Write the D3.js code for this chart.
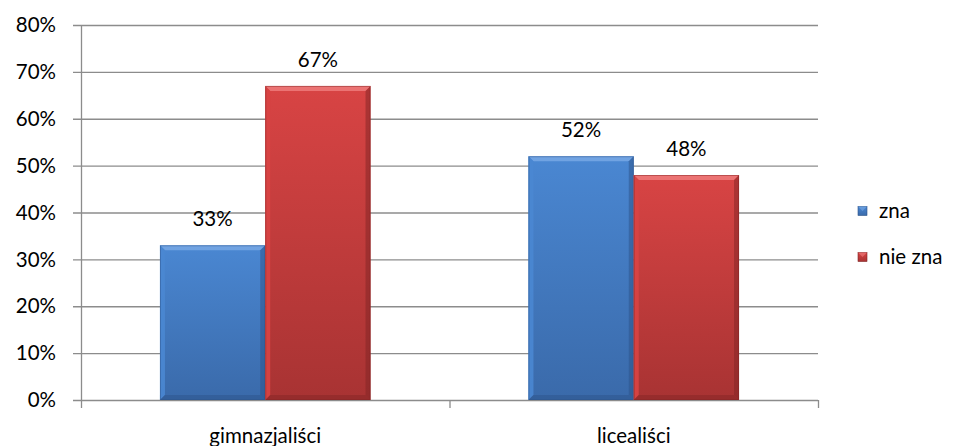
<!DOCTYPE html>
<html><head><meta charset="utf-8">
<script src="https://cdn.jsdelivr.net/npm/d3@7"></script>
<style>body{margin:0;background:#fff}svg{display:block;font-family:Lato,"Open Sans",sans-serif}</style>
</head><body><svg id="c" width="959" height="446"></svg>
<script>
const categories = ["gimnazjaliści", "licealiści"];
const seriesNames = ["zna", "nie zna"];
const zna = [33, 52];
const nieZna = [67, 48];
const yTicks = [0, 10, 20, 30, 40, 50, 60, 70, 80];

const svg = d3.select("#c");
const m = {l: 81, r: 141, t: 25, b: 46};
const W = 959, H = 446;
const FS = 20.5;
const x = d3.scaleBand().domain(categories).range([m.l, W - m.r]).paddingInner(0).paddingOuter(0);
const y = d3.scaleLinear().domain([0, 80]).range([H - m.b, m.t]);
const colors = [{top:"#4a87d2", bot:"#3a6aaa", hi:"#7aaae6", dk:"#2c5288"},
                {top:"#d84444", bot:"#a83333", hi:"#f08080", dk:"#802424"}];
const defs = svg.append("defs");
colors.forEach((c,i)=>{
  const g = defs.append("linearGradient").attr("id","g"+i).attr("x1",0).attr("y1",0).attr("x2",0).attr("y2",1);
  g.append("stop").attr("offset",0).attr("stop-color",c.top);
  g.append("stop").attr("offset",1).attr("stop-color",c.bot);
});

svg.append("g").selectAll("line").data(yTicks).join("line")
  .attr("x1", m.l - 8).attr("x2", W - m.r).attr("y1", d=>y(d)+0.5).attr("y2", d=>y(d)+0.5)
  .attr("stroke", "#8c8c8c").attr("stroke-width", 1.3);
svg.append("line").attr("x1", m.l+0.5).attr("x2", m.l+0.5).attr("y1", y(80)).attr("y2", y(0))
  .attr("stroke", "#8c8c8c").attr("stroke-width", 1.3);
svg.append("g").selectAll("text").data(yTicks).join("text")
  .attr("x", 56).attr("y", d=>y(d)).attr("dy","0.35em").attr("text-anchor","end")
  .attr("font-size", FS).attr("fill","#000").text(d=>d+"%");
const xt = [m.l, ...categories.map(c=>x(c)+x.bandwidth())];
svg.append("g").selectAll("line").data(xt).join("line")
  .attr("x1", d=>d+0.5).attr("x2", d=>d+0.5).attr("y1", y(0)).attr("y2", y(0)+8)
  .attr("stroke","#8c8c8c").attr("stroke-width",1.3);
svg.append("g").selectAll("text").data(categories).join("text")
  .attr("x", d=>x(d)+x.bandwidth()/2).attr("y", 436).attr("dy","0.35em").attr("text-anchor","middle")
  .attr("font-size", FS).text(d=>d);

const inner = d3.scaleBand().domain([0,1]).range([0, x.bandwidth()]).paddingOuter(0.75).paddingInner(0);
const series = [zna, nieZna];
const bars = [];
series.forEach((vals, si)=>{
  vals.forEach((v, ci)=>{
    bars.push({si, v, x0: x(categories[ci]) + inner(si), w: inner.bandwidth()});
  });
});
const bg = svg.append("g");
bars.forEach(b=>{
  const c = colors[b.si];
  const x0 = b.x0, x1 = b.x0 + b.w, y0 = y(b.v), y1 = y(0), e = 5;
  const g = bg.append("g");
  g.append("rect").attr("x", x0).attr("y", y0).attr("width", b.w).attr("height", y1-y0).attr("fill", `url(#g${b.si})`);
  g.append("path").attr("d", `M${x0},${y0}L${x1},${y0}L${x1-e},${y0+e}L${x0+e},${y0+e}Z`).attr("fill", c.hi).attr("opacity",0.8);
  g.append("path").attr("d", `M${x0},${y0}L${x0+e},${y0+e}L${x0+e},${y1-e}L${x0},${y1}Z`).attr("fill", c.top).attr("opacity",0.9);
  g.append("path").attr("d", `M${x1},${y0}L${x1-e},${y0+e}L${x1-e},${y1-e}L${x1},${y1}Z`).attr("fill", c.dk).attr("opacity",0.5);
  g.append("path").attr("d", `M${x0},${y1}L${x0+e},${y1-e}L${x1-e},${y1-e}L${x1},${y1}Z`).attr("fill", c.dk).attr("opacity",0.45);
  g.append("rect").attr("x", x0+0.5).attr("y", y0+0.5).attr("width", b.w-1).attr("height", y1-y0-1)
    .attr("fill","none").attr("stroke", c.dk).attr("stroke-opacity",0.45);
  svg.append("text").attr("x", x0 + b.w/2).attr("y", y0 - 26).attr("dy","0.35em").attr("text-anchor","middle")
    .attr("font-size",FS).text(b.v+"%");
});

const lg = svg.append("g");
seriesNames.forEach((n,i)=>{
  const yy = 211 + i*46;
  const c = colors[i];
  lg.append("rect").attr("x",858).attr("y",yy-4.5).attr("width",9).attr("height",9).attr("fill",`url(#g${i})`).attr("stroke",c.dk).attr("stroke-width",0.6);
  lg.append("path").attr("d",`M858,${yy-4.5}L867,${yy-4.5}L862.5,${yy}Z`).attr("fill",c.hi).attr("opacity",0.6);
  lg.append("text").attr("x",879).attr("y",yy).attr("dy","0.35em").attr("font-size",FS).text(n);
});
</script></body></html>
